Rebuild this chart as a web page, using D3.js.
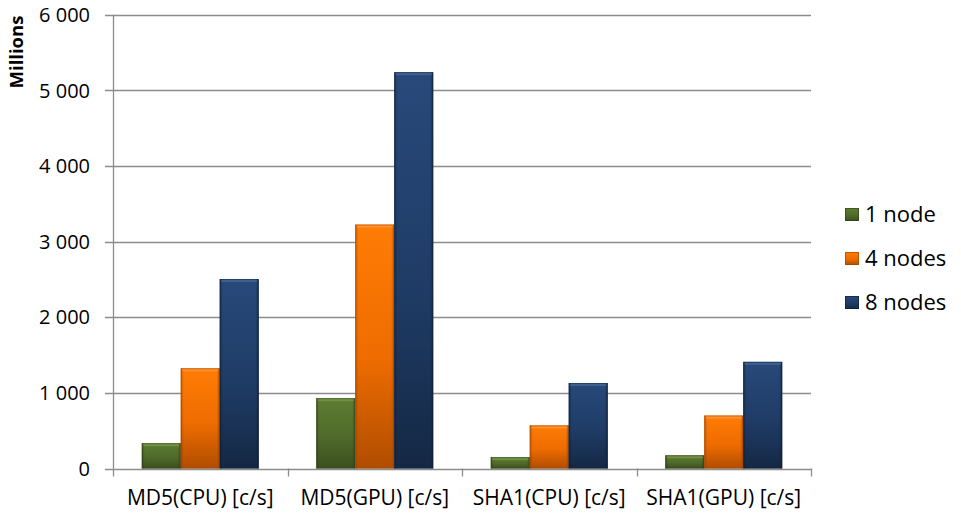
<!DOCTYPE html>
<html><head><meta charset="utf-8">
<script src="https://cdn.jsdelivr.net/npm/d3@7"></script>
<style>body{margin:0;background:#fff;}svg{display:block;}</style>
</head><body>
<svg id="c" width="961" height="515"></svg>
<script>
const categories = ["MD5(CPU) [c/s]", "MD5(GPU) [c/s]", "SHA1(CPU) [c/s]", "SHA1(GPU) [c/s]"];
const seriesNames = ["1 node", "4 nodes", "8 nodes"];
const node1 = [335, 930, 150, 175];
const nodes4 = [1325, 3225, 570, 700];
const nodes8 = [2505, 5240, 1130, 1410];
const yTicks = [0, 1000, 2000, 3000, 4000, 5000, 6000];
const yTickLabels = ["0", "1 000", "2 000", "3 000", "4 000", "5 000", "6 000"];
const axisTitle = "Millions";

const seriesVals = [node1, nodes4, nodes8];
const colors = [
  {top:"#5e7d33", mid:"#4f6a2a", bot:"#3b4f1e", edge:"#2e3e17", hi:"#7a9a4a"},
  {top:"#ff7c05", mid:"#ee6c00", bot:"#b04d00", edge:"#9a4200", hi:"#ff9a3a"},
  {top:"#28497a", mid:"#1f3c66", bot:"#142844", edge:"#0e1d33", hi:"#46699a"}
];

const svg = d3.select("#c");
const font = "'Open Sans', sans-serif";
const L = 113, R = 811, T = 14.7, B = 468.5;

const x0 = d3.scaleBand().domain(categories).range([L, R]).paddingInner(0.33).paddingOuter(0.165);
const x1 = d3.scaleBand().domain(seriesNames).range([0, x0.bandwidth()]);
const y = d3.scaleLinear().domain([0, 6000]).range([B, T]);

const defs = svg.append("defs");
colors.forEach((c, i) => {
  const g = defs.append("linearGradient").attr("id", "g" + i).attr("x1", 0).attr("y1", 0).attr("x2", 0).attr("y2", 1);
  g.append("stop").attr("offset", "0%").attr("stop-color", c.top);
  g.append("stop").attr("offset", "55%").attr("stop-color", c.mid);
  g.append("stop").attr("offset", "100%").attr("stop-color", c.bot);
  const h = defs.append("linearGradient").attr("id", "h" + i).attr("x1", 0).attr("y1", 0).attr("x2", 1).attr("y2", 0);
  h.append("stop").attr("offset", "0%").attr("stop-color", c.edge).attr("stop-opacity", 0.55);
  h.append("stop").attr("offset", "8%").attr("stop-color", c.edge).attr("stop-opacity", 0);
  h.append("stop").attr("offset", "92%").attr("stop-color", c.edge).attr("stop-opacity", 0);
  h.append("stop").attr("offset", "100%").attr("stop-color", c.edge).attr("stop-opacity", 0.6);
});

// gridlines
const grid = svg.append("g");
grid.selectAll("line").data(yTicks).join("line")
  .attr("x1", L - 8).attr("x2", R)
  .attr("y1", d => Math.round(y(d)) + 0.5).attr("y2", d => Math.round(y(d)) + 0.5)
  .attr("stroke", "#8c8c8c").attr("stroke-width", 1.3);

// y axis line
svg.append("line").attr("x1", L + 0.5).attr("x2", L + 0.5).attr("y1", y(6000)).attr("y2", B)
  .attr("stroke", "#8c8c8c").attr("stroke-width", 1.3);

// category ticks
const catEdges = categories.map(c => x0(c) - x0.step() * x0.paddingInner() / 2);
catEdges.push(R);
svg.append("g").selectAll("line").data(catEdges).join("line")
  .attr("x1", d => Math.round(d) + 0.5).attr("x2", d => Math.round(d) + 0.5)
  .attr("y1", B).attr("y2", B + 8).attr("stroke", "#8c8c8c").attr("stroke-width", 1.3);

// y tick labels
svg.append("g").selectAll("text").data(yTicks).join("text")
  .attr("x", 90).attr("y", d => y(d)).attr("dy", "0.36em")
  .attr("text-anchor", "end").attr("font-family", font).attr("font-size", 20).attr("fill", "#000")
  .text((d, i) => yTickLabels[i]);

// axis title
svg.append("text").attr("transform", `translate(23,52) rotate(-90)`)
  .attr("text-anchor", "middle").attr("font-family", font).attr("font-weight", "bold")
  .attr("font-size", 18.5).text(axisTitle);

// category labels
svg.append("g").selectAll("text").data(categories).join("text")
  .attr("x", d => x0(d) + x0.bandwidth() / 2).attr("y", 505)
  .attr("text-anchor", "middle").attr("font-family", font).attr("font-size", 21)
  .text(d => d);

// bars
function drawBar(g, x, yTop, w, h, i) {
  const c = colors[i];
  g.append("rect").attr("x", x).attr("y", yTop).attr("width", w).attr("height", h).attr("fill", `url(#g${i})`);
  g.append("rect").attr("x", x).attr("y", yTop).attr("width", w).attr("height", h).attr("fill", `url(#h${i})`);
  g.append("rect").attr("x", x + 1.5).attr("y", yTop).attr("width", w - 3).attr("height", Math.min(3, h)).attr("fill", c.hi).attr("opacity", 0.75);
  g.append("rect").attr("x", x + 0.5).attr("y", yTop + 0.5).attr("width", w - 1).attr("height", Math.max(0, h - 1))
    .attr("fill", "none").attr("stroke", c.edge).attr("stroke-opacity", 0.5).attr("stroke-width", 1);
}
const barsG = svg.append("g");
categories.forEach((cat, ci) => {
  seriesNames.forEach((s, si) => {
    const v = seriesVals[si][ci];
    const bx = x0(cat) + x1(s);
    drawBar(barsG, bx, y(v), x1.bandwidth(), B - y(v), si);
  });
});

// legend
const leg = svg.append("g");
const legY = [214, 258, 302];
seriesNames.forEach((s, i) => {
  const c = colors[i];
  leg.append("rect").attr("x", 845).attr("y", legY[i] - 6).attr("width", 14).attr("height", 13).attr("fill", `url(#g${i})`);
  leg.append("rect").attr("x", 845.5).attr("y", legY[i] - 5.5).attr("width", 13).attr("height", 12)
    .attr("fill", "none").attr("stroke", c.edge).attr("stroke-opacity", 0.6);
  leg.append("text").attr("x", 865).attr("y", legY[i]).attr("dy", "0.36em")
    .attr("font-family", font).attr("font-size", 22).text(s);
});
</script>
</body></html>
